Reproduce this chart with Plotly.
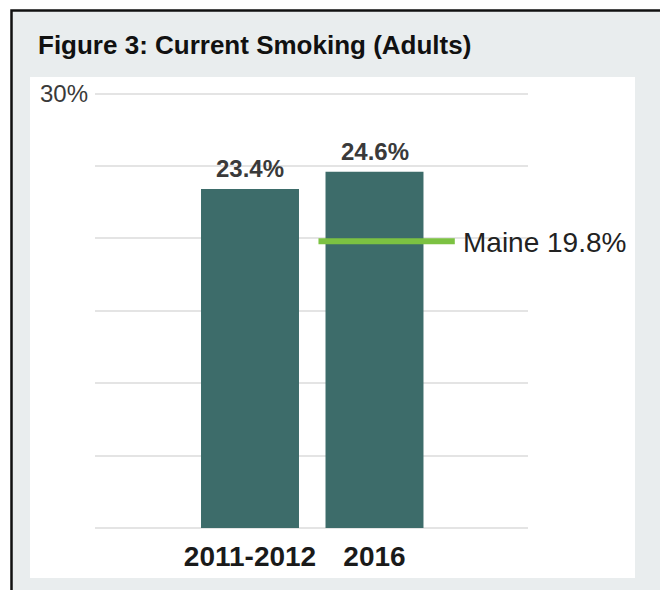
import plotly.graph_objects as go

# ---- data ----
categories = ["2011-2012", "2016"]
values = [23.4, 24.6]
maine_value = 19.8
maine_label = "Maine"
title_text = "Figure 3: Current Smoking (Adults)"
y_tick_values = [0, 5, 10, 15, 20, 25, 30]
y_tick_labels = ["", "", "", "", "", "", "30%"]

# ---- layout geometry ----
OFF = 8                      # page body margin in the browser
W, H = 660, 582              # figure size
L, R, T, B = 87, 140, 83, 60
PW, PH = W - L - R, H - T - B
# page-pixel positions of y=0 and y=30
Y0_PAGE, Y30_PAGE = 528.0, 93.5
UPP = 30 / (Y0_PAGE - Y30_PAGE)          # units per pixel
plot_top_page = T + OFF
plot_bot_page = H - B + OFF
y_range = [-(plot_bot_page - Y0_PAGE) * UPP, 30 + (Y30_PAGE - plot_top_page) * UPP]


def px(xp):
    return (xp - OFF - L) / PW


def py(yp):
    return (H - B + OFF - yp) / PH


FONT = "Liberation Sans, Arial, Helvetica, sans-serif"
BAR_COLOR = "#3d6c6a"
GREEN = "#7cc242"

fig = go.Figure()
fig.add_trace(go.Bar(
    x=categories, y=values, width=0.787,
    marker=dict(color=BAR_COLOR, line=dict(width=0)),
    hoverinfo="skip",
))

# value labels above bars
for i, v in enumerate(values):
    fig.add_annotation(
        x=i, y=v, xref="x", yref="y", text=f"<b>{v}%</b>", showarrow=False,
        yanchor="bottom", xanchor="center", yshift=5,
        font=dict(family=FONT, size=24, color="#3a3a3a"),
    )

# Maine reference line
fig.add_shape(type="line", xref="x", yref="y", x0=0.55, x1=1.645,
              y0=maine_value, y1=maine_value,
              line=dict(color=GREEN, width=6), layer="above")
fig.add_annotation(
    x=1.645, y=maine_value, xref="x", yref="y",
    text=f"{maine_label} {maine_value}%", showarrow=False,
    xanchor="left", yanchor="middle", xshift=6, yshift=-1,
    font=dict(family=FONT, size=28, color="#222222"),
)

# background: gray box with black border, white panel
fig.add_shape(type="rect", xref="paper", yref="paper",
              x0=px(11.5), x1=px(664.5), y0=py(640), y1=py(10.5),
              fillcolor="#e9edee", line=dict(color="#111111", width=2.5), layer="below")
fig.add_shape(type="rect", xref="paper", yref="paper",
              x0=px(30), x1=px(635), y0=py(578), y1=py(77),
              fillcolor="#ffffff", line=dict(width=0), layer="below")

fig.update_layout(
    width=W, height=H,
    margin=dict(l=L, r=R, t=T, b=B, pad=0),
    paper_bgcolor="#ffffff", plot_bgcolor="rgba(0,0,0,0)",
    showlegend=False,
    title=dict(text=f"<b>{title_text}</b>", x=(38 - OFF) / W, xanchor="left", xref="container",
               y=1 - (45 - OFF) / H, yanchor="middle", yref="container",
               font=dict(family=FONT, size=26, color="#111111")),
    xaxis=dict(type="category", range=[-1.245, 2.233], showgrid=False, zeroline=False,
               showline=False, ticks="", ticklabelstandoff=7,
               tickfont=dict(family=FONT, size=28, color="#1a1a1a"),
               tickprefix="<b>", ticksuffix="</b>", fixedrange=True),
    yaxis=dict(range=y_range, tickvals=y_tick_values, ticktext=y_tick_labels,
               showgrid=True, gridcolor="#e4e4e4", gridwidth=1.5,
               zeroline=False, showline=False, ticks="", ticklabelstandoff=6,
               tickfont=dict(family=FONT, size=24, color="#3a3a3a"),
               fixedrange=True),
)

fig.write_html("out.html")
